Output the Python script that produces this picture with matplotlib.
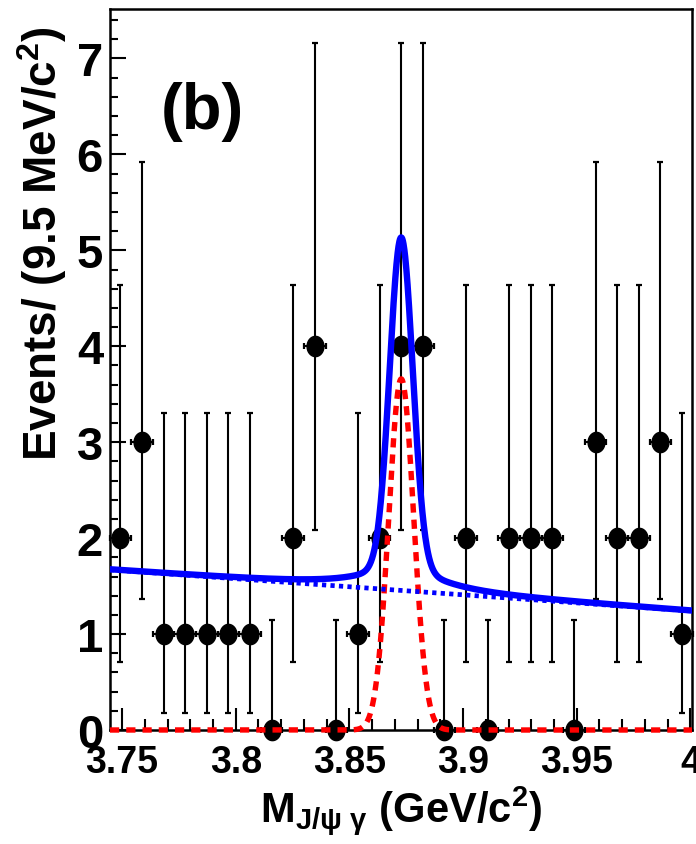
import numpy as np
import matplotlib
matplotlib.use("Agg")
import matplotlib.pyplot as plt
from matplotlib.path import Path
from matplotlib import font_manager

# ---------------- data ----------------
x_centers = [3.7493, 3.7588, 3.7683, 3.7778, 3.7873, 3.7968, 3.8063, 3.8158, 3.8253,
             3.8348, 3.8443, 3.8538, 3.8633, 3.8728, 3.8823, 3.8918, 3.9013, 3.9108,
             3.9203, 3.9298, 3.9393, 3.9488, 3.9583, 3.9678, 3.9773, 3.9868, 3.9963]
counts = [2, 3, 1, 1, 1, 1, 1, 0, 2, 4, 0, 1, 2, 4, 4, 0, 2, 0, 2, 2, 2, 0, 3, 2, 2, 3, 1]
bin_half_width = 0.00475
# Poisson 68% interval edges for n = 0..4
poisson_low = [0.0, 0.173, 0.708, 1.367, 2.086]
poisson_high = [1.148, 3.300, 4.638, 5.918, 7.163]

# fitted curves
bkg_x = [3.7447, 4.0007]
bkg_y = [1.67, 1.24]
peak_mean = 3.8728
sig_core_amp, sig_core_sigma = 3.43, 0.00505
sig_tail_amp, sig_tail_gamma = 0.25, 0.0198
red_amp, red_sigma = 3.66, 0.0055

x_ticks = [3.75, 3.8, 3.85, 3.9, 3.95, 4.0]
x_tick_labels = ["3.75", "3.8", "3.85", "3.9", "3.95", "4"]
y_ticks = [0, 1, 2, 3, 4, 5, 6, 7]
x_range = (3.7447, 4.0007)
y_range = (0.0, 7.516)

# ---------------- fonts ----------------
names = {f.name for f in font_manager.fontManager.ttflist}
main_font = "Liberation Sans" if "Liberation Sans" in names else "DejaVu Sans"
narrow_font = "Liberation Sans Narrow" if "Liberation Sans Narrow" in names else main_font
plt.rcParams["font.family"] = [main_font, "DejaVu Sans"]
plt.rcParams["font.weight"] = "bold"
plt.rcParams["mathtext.fontset"] = "custom"
plt.rcParams["mathtext.rm"] = main_font + ":bold"
plt.rcParams["mathtext.bf"] = main_font + ":bold"
plt.rcParams["mathtext.it"] = main_font + ":bold"
plt.rcParams["mathtext.sf"] = main_font + ":bold"

W, H = 696, 845
fig = plt.figure(figsize=(W / 100, H / 100), dpi=100)
ax = fig.add_axes([110 / W, 1 - 731 / H, (692 - 110) / W, (731 - 10) / H])

x = np.array(x_centers)
n = np.array(counts)
lo = np.array([poisson_low[c] for c in counts])
hi = np.array([poisson_high[c] for c in counts])
yerr = np.vstack([n - lo, hi - n])

ax.errorbar(x, n, yerr=yerr, xerr=bin_half_width, fmt="none", ecolor="black",
            elinewidth=1.5, capsize=2.4, capthick=1.6, clip_on=False, zorder=2)

t = np.linspace(0, 2 * np.pi, 80)
ellipse = Path(np.column_stack([0.83 * np.cos(t), np.sin(t)]), closed=True)
ax.plot(x, n, linestyle="none", marker=ellipse, markersize=14.6, color="black",
        clip_on=False, zorder=3)

# curves
xs = np.linspace(x_range[0], x_range[1], 2000)
bkg = np.interp(xs, bkg_x, bkg_y)
core = sig_core_amp * np.exp(-0.5 * ((xs - peak_mean) / sig_core_sigma) ** 2)
tail = sig_tail_amp / (1 + ((xs - peak_mean) / sig_tail_gamma) ** 2)
total = bkg + core + tail
red = red_amp * np.exp(-0.5 * ((xs - peak_mean) / red_sigma) ** 2)

ax.plot(xs, red, color="#ff0000", lw=3.9, dashes=(1.7, 1.3), clip_on=False,
        zorder=4, dash_capstyle="butt")
ax.plot(xs, bkg, color="#0000ff", lw=3.4, dashes=(0.9, 0.9), zorder=5,
        dash_capstyle="butt")
ax.plot(xs, total, color="#0000ff", lw=4.6, zorder=6)

ax.set_xlim(*x_range)
ax.set_ylim(*y_range)

for s in ax.spines.values():
    s.set_linewidth(1.8)
ax.spines["bottom"].set_zorder(1)

ax.set_xticks(x_ticks)
ax.set_xticklabels(x_tick_labels)
ax.set_xticks(np.arange(3.75, 4.0001, 0.01), minor=True)
ax.set_yticks(y_ticks)
ax.set_yticks(np.arange(0, 7.51, 0.2), minor=True)

ax.tick_params(axis="x", which="major", direction="in", length=16, width=1.5,
               pad=10, labelsize=27, top=False)
ax.tick_params(axis="x", which="minor", direction="in", length=8, width=1.5, top=False)
ax.tick_params(axis="y", which="major", direction="in", length=11.5, width=1.5,
               pad=5, labelsize=34, right=False)
ax.tick_params(axis="y", which="minor", direction="in", length=5.8, width=1.5, right=False)
for lab in ax.get_yticklabels():
    lab.set_fontfamily([narrow_font, "DejaVu Sans"])
    lab.set_fontweight("bold")
for lab in ax.get_xticklabels():
    lab.set_fontweight("bold")

# titles
fig.text(57 / W, 1 - 244 / H, "Events/ (9.5 MeV/c$^{2}$)", rotation=90,
         rotation_mode="anchor", ha="center", va="baseline", fontsize=33,
         fontweight="bold")
fig.text(401 / W, 1 - 822 / H, r"M$_{J/\psi\ \gamma}$ (GeV/c$^{2}$)",
         ha="center", va="baseline", fontsize=30, fontweight="bold")
fig.text(202 / W, 1 - 112 / H, "(b)", ha="center", va="center", fontsize=47,
         fontweight="bold")

fig.savefig("out.png", dpi=100)
